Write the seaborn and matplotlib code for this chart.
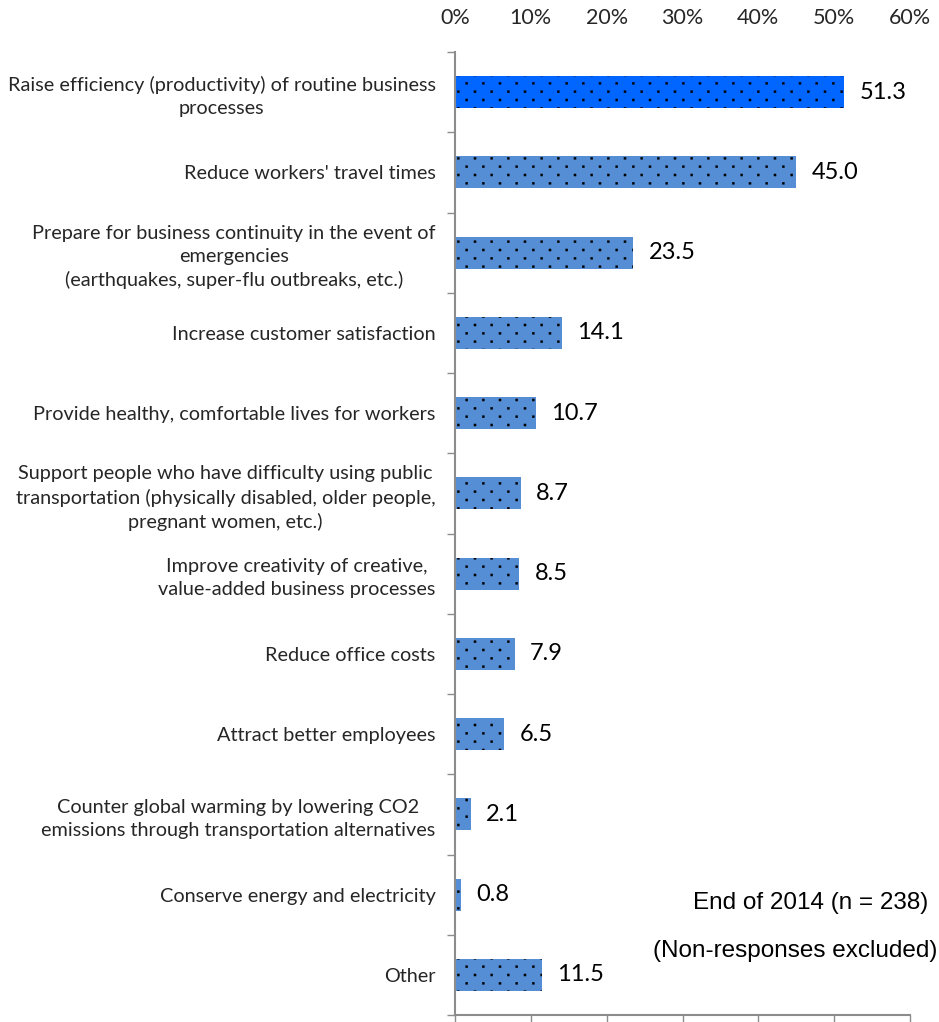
import numpy as np
import pandas as pd
import matplotlib
matplotlib.use("Agg")
import matplotlib.pyplot as plt
import matplotlib.hatch as mhatch
from matplotlib.path import Path
from matplotlib import font_manager
from matplotlib.ticker import FixedLocator, FuncFormatter
import seaborn as sns

# ---- data -------------------------------------------------------------
purposes = [
    "Raise efficiency (productivity) of routine business\nprocesses",
    "Reduce workers' travel times",
    "Prepare for business continuity in the event of\nemergencies\n(earthquakes, super-flu outbreaks, etc.)",
    "Increase customer satisfaction",
    "Provide healthy, comfortable lives for workers",
    "Support people who have difficulty using public\ntransportation (physically disabled, older people,\npregnant women, etc.)",
    "Improve creativity of creative,\nvalue-added business processes",
    "Reduce office costs",
    "Attract better employees",
    "Counter global warming by lowering CO2\nemissions through transportation alternatives",
    "Conserve energy and electricity",
    "Other",
]
shares = [51.3, 45.0, 23.5, 14.1, 10.7, 8.7, 8.5, 7.9, 6.5, 2.1, 0.8, 11.5]
x_ticks = [0, 10, 20, 30, 40, 50, 60]
note_lines = ["End of 2014 (n = 238)", "(Non-responses excluded)"]

HIGHLIGHT = "#0066FF"
BASE = "#558ED5"
SPINE = "#8C8C8C"


# ---- dotted fill: staggered lattice of small square dots ---------------
class StaggeredDots(mhatch.HatchPatternBase):
    size = 0.13  # dot side relative to the column spacing

    def __init__(self, hatch, density):
        self.n = hatch.count('.') * density
        if self.n == 0:
            self.num_vertices = 0
            return
        n = self.n
        self.num_vertices = ((n + 1) * (n + 1) + n * n) * 5

    def set_vertices_and_codes(self, vertices, codes):
        n = self.n
        step = 1.0 / n
        h = step * self.size / 2
        square = np.array([[-h, -h], [h, -h], [h, h], [-h, h], [-h, -h]])
        sq_codes = [Path.MOVETO, Path.LINETO, Path.LINETO, Path.LINETO,
                    Path.CLOSEPOLY]
        cur = 0
        for r in range(2 * n + 1):
            y = r * step / 2
            if r % 2 == 0:
                xs = np.linspace(0, 1, n + 1)
            else:
                xs = np.linspace(step / 2, 1 - step / 2, n)
            for x in xs:
                vertices[cur:cur + 5] = square + (x, y)
                codes[cur:cur + 5] = sq_codes
                cur += 5


mhatch._hatch_types = [StaggeredDots if t is mhatch.SmallFilledCircles else t
                       for t in mhatch._hatch_types]

# ---- style --------------------------------------------------------------
sns.set_theme(style="white")
installed = {f.name for f in font_manager.fontManager.ttflist}
BODY = "Lato" if "Lato" in installed else "DejaVu Sans"
plt.rcParams["font.family"] = [BODY, "DejaVu Sans"]
plt.rcParams["hatch.linewidth"] = 0.2
plt.rcParams["hatch.color"] = "black"

W, H = 939, 1022
fig = plt.figure(figsize=(W / 100, H / 100), dpi=100)
ax = fig.add_axes([455 / W, 1 - 1015 / H, 455 / W, (1015 - 52) / H])

df = pd.DataFrame({"purpose": purposes, "share": shares})
palette = [HIGHLIGHT] + [BASE] * (len(purposes) - 1)
sns.barplot(data=df, x="share", y="purpose", hue="purpose", palette=palette,
            legend=False, orient="h", width=0.4, saturation=1, ax=ax)

for p in ax.patches:
    p.set_hatch(".")
    p.set_edgecolor("black")
    p.set_linewidth(0)

for c in ax.containers:
    ax.bar_label(c, fmt="%.1f", padding=11, fontsize=17, color="black")

# ---- axes -------------------------------------------------------------
ax.set_xlim(x_ticks[0], x_ticks[-1])
ax.set_ylim(len(purposes) - 0.5, -0.5)
ax.set_xlabel("")
ax.set_ylabel("")
ax.xaxis.set_major_locator(FixedLocator(x_ticks))
ax.xaxis.set_major_formatter(FuncFormatter(lambda v, _: f"{v:.0f}%"))
ax.tick_params(axis="x", bottom=True, top=False, labelbottom=False,
               labeltop=True, direction="out", length=5, width=1,
               color=SPINE, pad=12, labelsize=15.5)

ax.yaxis.set_minor_locator(FixedLocator(np.arange(-0.5, len(purposes), 1.0)))
ax.tick_params(axis="y", which="major", left=False, length=0, pad=14,
               labelsize=14.3)
ax.tick_params(axis="y", which="minor", left=True, length=6, width=1,
               color=SPINE, direction="out")
for t in ax.get_yticklabels():
    t.set_multialignment("center")
    t.set_linespacing(1.42)

for side in ["top", "right"]:
    ax.spines[side].set_visible(False)
for side in ["left", "bottom"]:
    ax.spines[side].set_color(SPINE)
    ax.spines[side].set_linewidth(1.5)

# ---- note -----------------------------------------------------------------
fig.text(811 / W, 1 - 903 / H, note_lines[0], ha="center", va="center",
         fontsize=17.5, family="Liberation Sans", color="black")
fig.text(937 / W, 1 - 951 / H, note_lines[1], ha="right", va="center",
         fontsize=17.5, family="Liberation Sans", color="black")

fig.savefig("out.png", dpi=100)
